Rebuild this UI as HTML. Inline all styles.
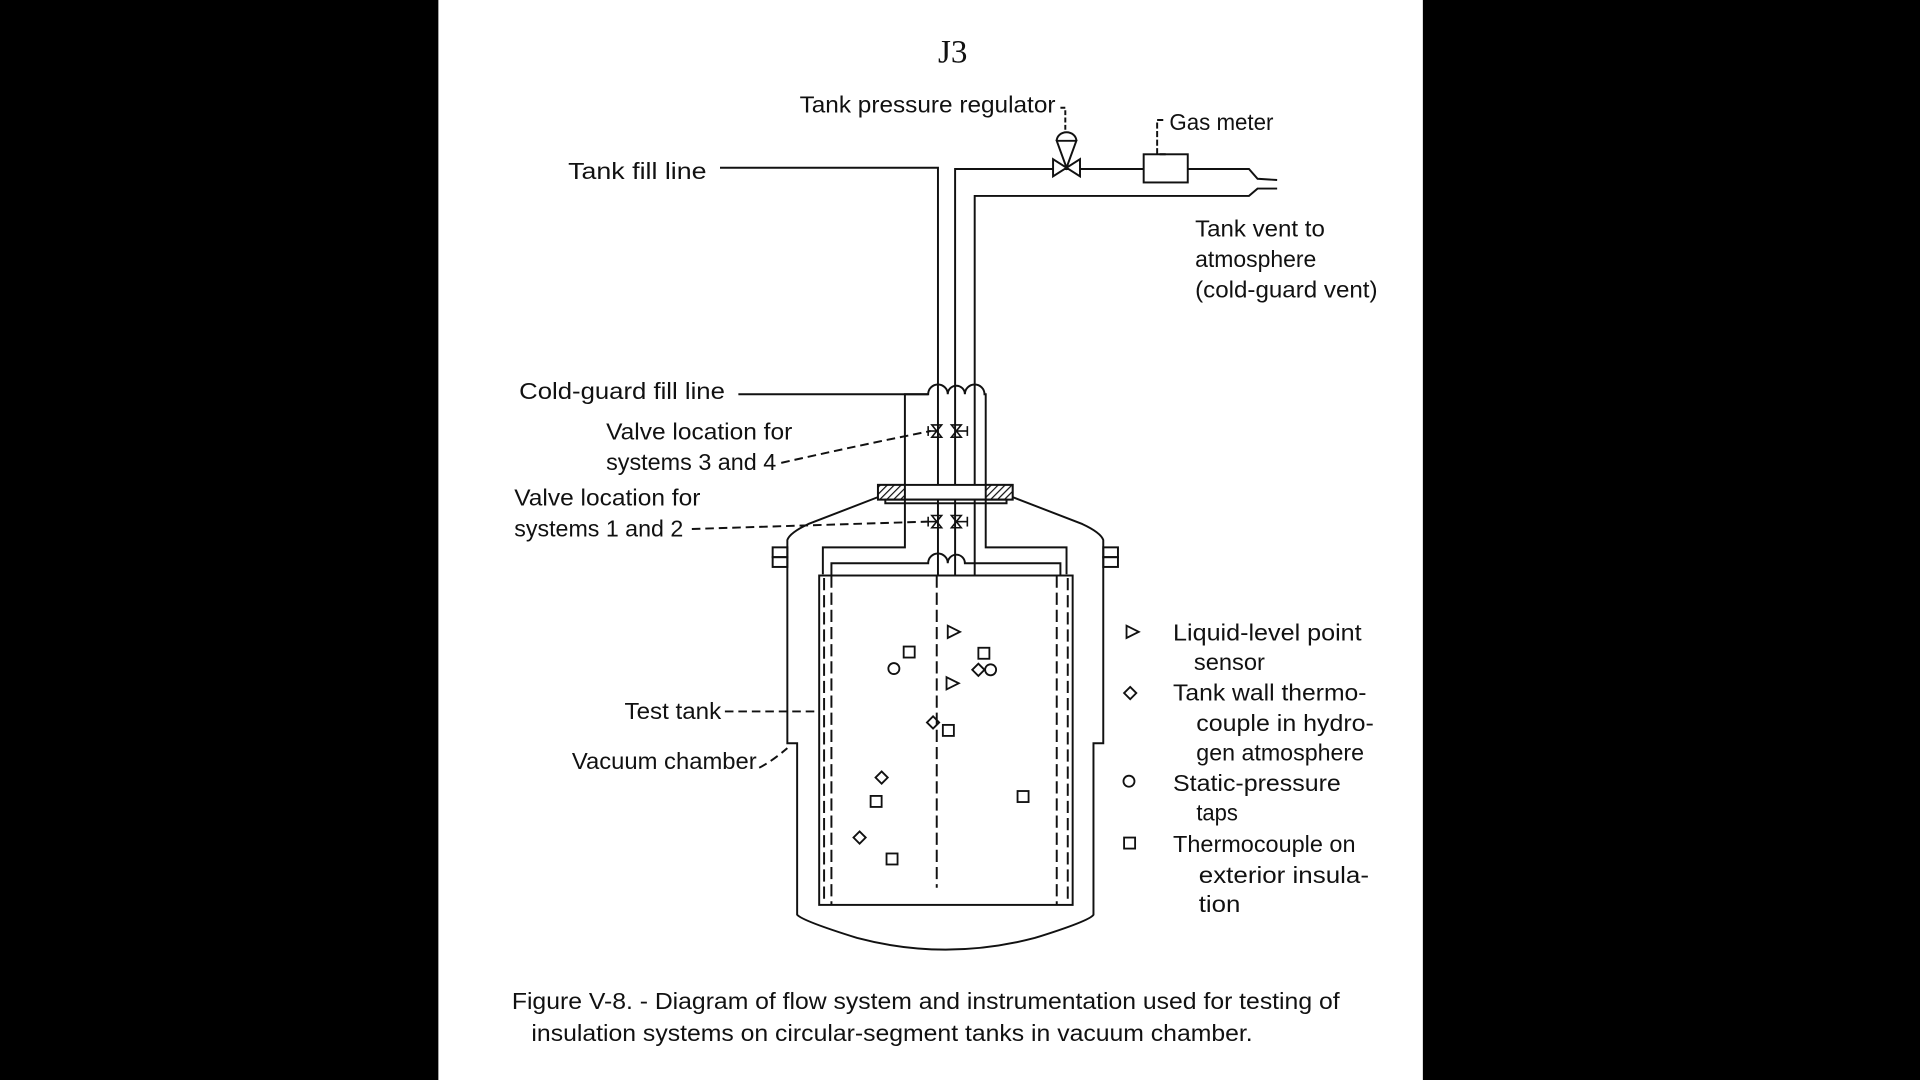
<!DOCTYPE html>
<html><head><meta charset="utf-8"><style>
html,body{margin:0;padding:0;background:#000;width:1920px;height:1080px;overflow:hidden}
svg{display:block}
text{font-family:"Liberation Sans",sans-serif;font-size:18.5px;fill:#111}
</style></head><body>
<svg width="1920" height="1080" viewBox="0 0 1568 882" xmlns="http://www.w3.org/2000/svg">
<defs>
<pattern id="h" width="4" height="4" patternUnits="userSpaceOnUse" patternTransform="rotate(45)">
<rect width="4" height="4" fill="#fff"/><line x1="0" y1="0" x2="0" y2="4" stroke="#111" stroke-width="2"/>
</pattern>
</defs>
<rect x="0" y="0" width="1568" height="882" fill="#000"/>
<rect x="358" y="0" width="804" height="882" fill="#fff"/>
<text x="778" y="51" text-anchor="middle" style="font-family:'Liberation Serif',serif;font-size:27px">J3</text>

<g fill="none" stroke="#111" stroke-width="1.6">
<!-- fill line -->
<polyline points="588,137 766,137 766,470"/>
<!-- vent pipe -->
<polyline points="780,470 780,138 1020,138 1027,146 1043,147"/>
<polyline points="796,470 796,160 1020,160 1027,154 1043,154"/>
<!-- regulator -->
<path d="M860,130 L882,144 L882,130 L860,144 Z" fill="#fff"/>
<path d="M871,137 L863,115 L879,115 Z" fill="#fff"/>
<path d="M863,115 A8,7 0 0 1 879,115"/>
<polyline points="866,88 870,88 870,106" stroke-dasharray="4,2"/>
<rect x="934" y="126" width="36" height="23" fill="#fff"/>
<polyline points="952,126 945,126 945,98 950,98" stroke-dasharray="5,2"/>
<!-- cold guard fill line with bumps -->
<path d="M603,322 L758,322 A8,8 0 0 1 774,322 A6,6 0 0 1 788,322 A8,8 0 0 1 804,322 L805,322 L805,447 L871,447 L871,469"/>
<polyline points="758,322 739,322 739,447 672,447 672,469"/>
<path d="M679,470 L679,460 L758,460 A8,8 0 0 1 774,460 A6,6 0 0 1 788,460 L866,460 L866,470"/>
<!-- valves -->
<g stroke-width="1.3">
<path d="M761,347 L769,347 L761,357 L769,357 Z"/><line x1="758" y1="352" x2="765" y2="352"/><line x1="758" y1="348" x2="758" y2="356"/>
<path d="M777,347 L785,347 L777,357 L785,357 Z"/><line x1="781" y1="352" x2="790" y2="352"/><line x1="790" y1="348" x2="790" y2="356"/>
<path d="M761,421 L769,421 L761,431 L769,431 Z"/><line x1="758" y1="426" x2="765" y2="426"/><line x1="758" y1="422" x2="758" y2="430"/>
<path d="M777,421 L785,421 L777,431 L785,431 Z"/><line x1="781" y1="426" x2="790" y2="426"/><line x1="790" y1="422" x2="790" y2="430"/>
</g>
<!-- flange -->
<rect x="717" y="396" width="110" height="12" fill="#fff"/>
<rect x="717" y="396" width="22" height="12" fill="url(#h)"/>
<rect x="805" y="396" width="22" height="12" fill="url(#h)"/>
<rect x="723" y="408" width="99" height="3"/>
<!-- vacuum chamber -->
<path d="M717,406 L660,428 Q645,435 643,441 L643,607 L651,607 L651,747 Q655,752 700,766 Q772,785 845,766 Q890,752 893,747 L893,607 L901,607 L901,441 Q899,435 884,428 L827,406"/>
<rect x="631" y="447" width="12" height="8"/><rect x="631" y="455" width="12" height="8"/>
<rect x="901" y="447" width="12" height="8"/><rect x="901" y="455" width="12" height="8"/>
<!-- tank -->
<rect x="669" y="470" width="207" height="269"/>
<g stroke-dasharray="10,4">
<line x1="679" y1="470" x2="679" y2="739"/><line x1="863" y1="470" x2="863" y2="739"/>
<line x1="673" y1="472" x2="673" y2="737"/><line x1="872" y1="472" x2="872" y2="737"/>
<line x1="765" y1="470" x2="765" y2="725"/>
</g>
<!-- leaders -->
<g stroke-dasharray="7,4">
<path d="M638,378 Q700,364 760,352"/>
<line x1="565" y1="432" x2="758" y2="426"/>
<line x1="592" y1="581" x2="669" y2="581"/>
<path d="M620,627 Q630,622 643,611"/>
</g>
<!-- markers -->
<g stroke-width="1.5">
<path d="M774,511 L784,516 L774,521 Z"/><path d="M773,553 L783,558 L773,563 Z"/>
<rect x="738" y="528" width="9" height="9"/><circle cx="730" cy="546" r="4.5"/>
<rect x="799" y="529" width="9" height="9"/><path d="M799,542 L804,547 L799,552 L794,547 Z"/><circle cx="809" cy="547" r="4.5"/>
<path d="M762,585 L767,590 L762,595 L757,590 Z"/><rect x="770" y="592" width="9" height="9"/>
<path d="M720,630 L725,635 L720,640 L715,635 Z"/><rect x="711" y="650" width="9" height="9"/>
<path d="M702,679 L707,684 L702,689 L697,684 Z"/><rect x="724" y="697" width="9" height="9"/>
<rect x="831" y="646" width="9" height="9"/>
<path d="M920,511 L930,516 L920,521 Z"/>
<path d="M923,561 L928,566 L923,571 L918,566 Z"/>
<circle cx="922" cy="638" r="4.5"/>
<rect x="918" y="684" width="9" height="9"/>
</g>
</g>

<text x="653" y="92" textLength="209" lengthAdjust="spacingAndGlyphs">Tank pressure regulator</text>
<text x="955" y="106" textLength="85" lengthAdjust="spacingAndGlyphs">Gas meter</text>
<text x="464" y="146" textLength="113" lengthAdjust="spacingAndGlyphs">Tank fill line</text>
<text x="976" y="193" textLength="106" lengthAdjust="spacingAndGlyphs">Tank vent to</text>
<text x="976" y="218" textLength="99" lengthAdjust="spacingAndGlyphs">atmosphere</text>
<text x="976" y="243" textLength="149" lengthAdjust="spacingAndGlyphs">(cold-guard vent)</text>
<text x="424" y="326" textLength="168" lengthAdjust="spacingAndGlyphs">Cold-guard fill line</text>
<text x="495" y="359" textLength="152" lengthAdjust="spacingAndGlyphs">Valve location for</text>
<text x="495" y="384" textLength="139" lengthAdjust="spacingAndGlyphs">systems 3 and 4</text>
<text x="420" y="413" textLength="152" lengthAdjust="spacingAndGlyphs">Valve location for</text>
<text x="420" y="438" textLength="138" lengthAdjust="spacingAndGlyphs">systems 1 and 2</text>
<text x="510" y="587" textLength="79" lengthAdjust="spacingAndGlyphs">Test tank</text>
<text x="467" y="628" textLength="151" lengthAdjust="spacingAndGlyphs">Vacuum chamber</text>
<text x="958" y="523" textLength="154" lengthAdjust="spacingAndGlyphs">Liquid-level point</text>
<text x="975" y="547" textLength="58" lengthAdjust="spacingAndGlyphs">sensor</text>
<text x="958" y="572" textLength="158" lengthAdjust="spacingAndGlyphs">Tank wall thermo-</text>
<text x="977" y="597" textLength="145" lengthAdjust="spacingAndGlyphs">couple in hydro-</text>
<text x="977" y="621" textLength="137" lengthAdjust="spacingAndGlyphs">gen atmosphere</text>
<text x="958" y="646" textLength="137" lengthAdjust="spacingAndGlyphs">Static-pressure</text>
<text x="977" y="670" textLength="34" lengthAdjust="spacingAndGlyphs">taps</text>
<text x="958" y="696" textLength="149" lengthAdjust="spacingAndGlyphs">Thermocouple on</text>
<text x="979" y="721" textLength="139" lengthAdjust="spacingAndGlyphs">exterior insula-</text>
<text x="979" y="745" textLength="34" lengthAdjust="spacingAndGlyphs">tion</text>
<text x="418" y="824" textLength="676" lengthAdjust="spacingAndGlyphs">Figure V-8. - Diagram of flow system and instrumentation used for testing of</text>
<text x="434" y="850" textLength="589" lengthAdjust="spacingAndGlyphs">insulation systems on circular-segment tanks in vacuum chamber.</text>
</svg>
</body></html>
